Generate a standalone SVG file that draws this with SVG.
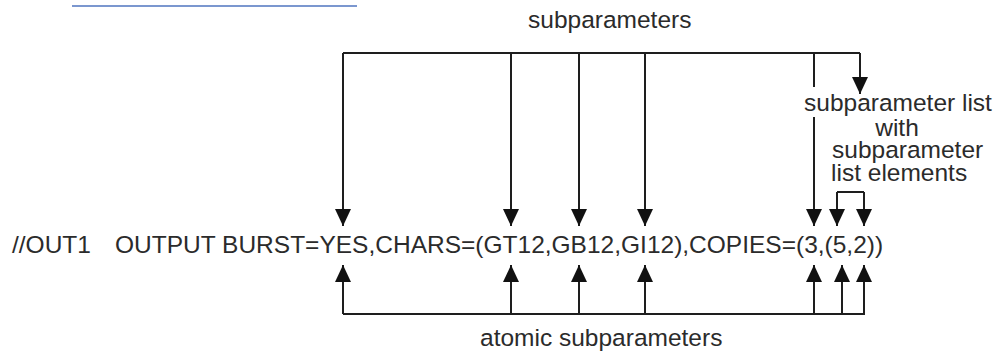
<svg xmlns="http://www.w3.org/2000/svg" width="996" height="352" viewBox="0 0 996 352">
<style>
text{font-family:"Liberation Sans",Arial,sans-serif;font-size:24.5px;fill:#2b2b2b}
.c{stroke:#1e1e1e;stroke-width:2;fill:none}
.a{marker-end:url(#ah)}
</style>
<defs>
<marker id="ah" viewBox="0 0 17 16" refX="17" refY="8" markerWidth="17" markerHeight="16" markerUnits="userSpaceOnUse" orient="auto">
<path d="M0,0 L17,8 L0,16 z" fill="#111"/>
</marker>
</defs>
<rect width="996" height="352" fill="#fff"/>
<line x1="72" y1="6" x2="357" y2="6" stroke="#7b97cf" stroke-width="2"/>
<g id="statement">
<text x="12" y="253">//OUT1</text>
<text x="115" y="253">OUTPUT BURST=YES,CHARS=(GT12,GB12,GI12),COPIES=(3,(5,2))</text>
</g>
<g id="label-subparameters"><text x="528" y="28">subparameters</text></g>
<g id="label-list">
<text x="804" y="111">subparameter list</text>
<text x="897" y="136" text-anchor="middle">with</text>
<text x="832" y="158">subparameter</text>
<text x="831" y="181">list elements</text>
</g>
<g id="label-atomic"><text x="480" y="346">atomic subparameters</text></g>
<g id="connectors">
<path class="c" d="M343,53 H860"/>
<line class="c a" x1="343" y1="53" x2="343" y2="226"/>
<line class="c a" x1="511" y1="53" x2="511" y2="226"/>
<line class="c a" x1="579" y1="53" x2="579" y2="226"/>
<line class="c a" x1="645" y1="53" x2="645" y2="226"/>
<line class="c a" x1="860" y1="53" x2="860" y2="94"/>
<line class="c" x1="814" y1="53" x2="814" y2="87"/>
<line class="c a" x1="814" y1="117" x2="814" y2="226"/>
<path class="c" d="M837,192 H864"/>
<line class="c a" x1="837" y1="192" x2="837" y2="226"/>
<line class="c a" x1="864" y1="192" x2="864" y2="226"/>
<path class="c" d="M343,314 H865"/>
<line class="c a" x1="343" y1="314" x2="343" y2="265"/>
<line class="c a" x1="511" y1="314" x2="511" y2="265"/>
<line class="c a" x1="579" y1="314" x2="579" y2="265"/>
<line class="c a" x1="645" y1="314" x2="645" y2="265"/>
<line class="c a" x1="814" y1="314" x2="814" y2="265"/>
<line class="c a" x1="842" y1="314" x2="842" y2="265"/>
<line class="c a" x1="864" y1="314" x2="864" y2="265"/>
</g>
</svg>
